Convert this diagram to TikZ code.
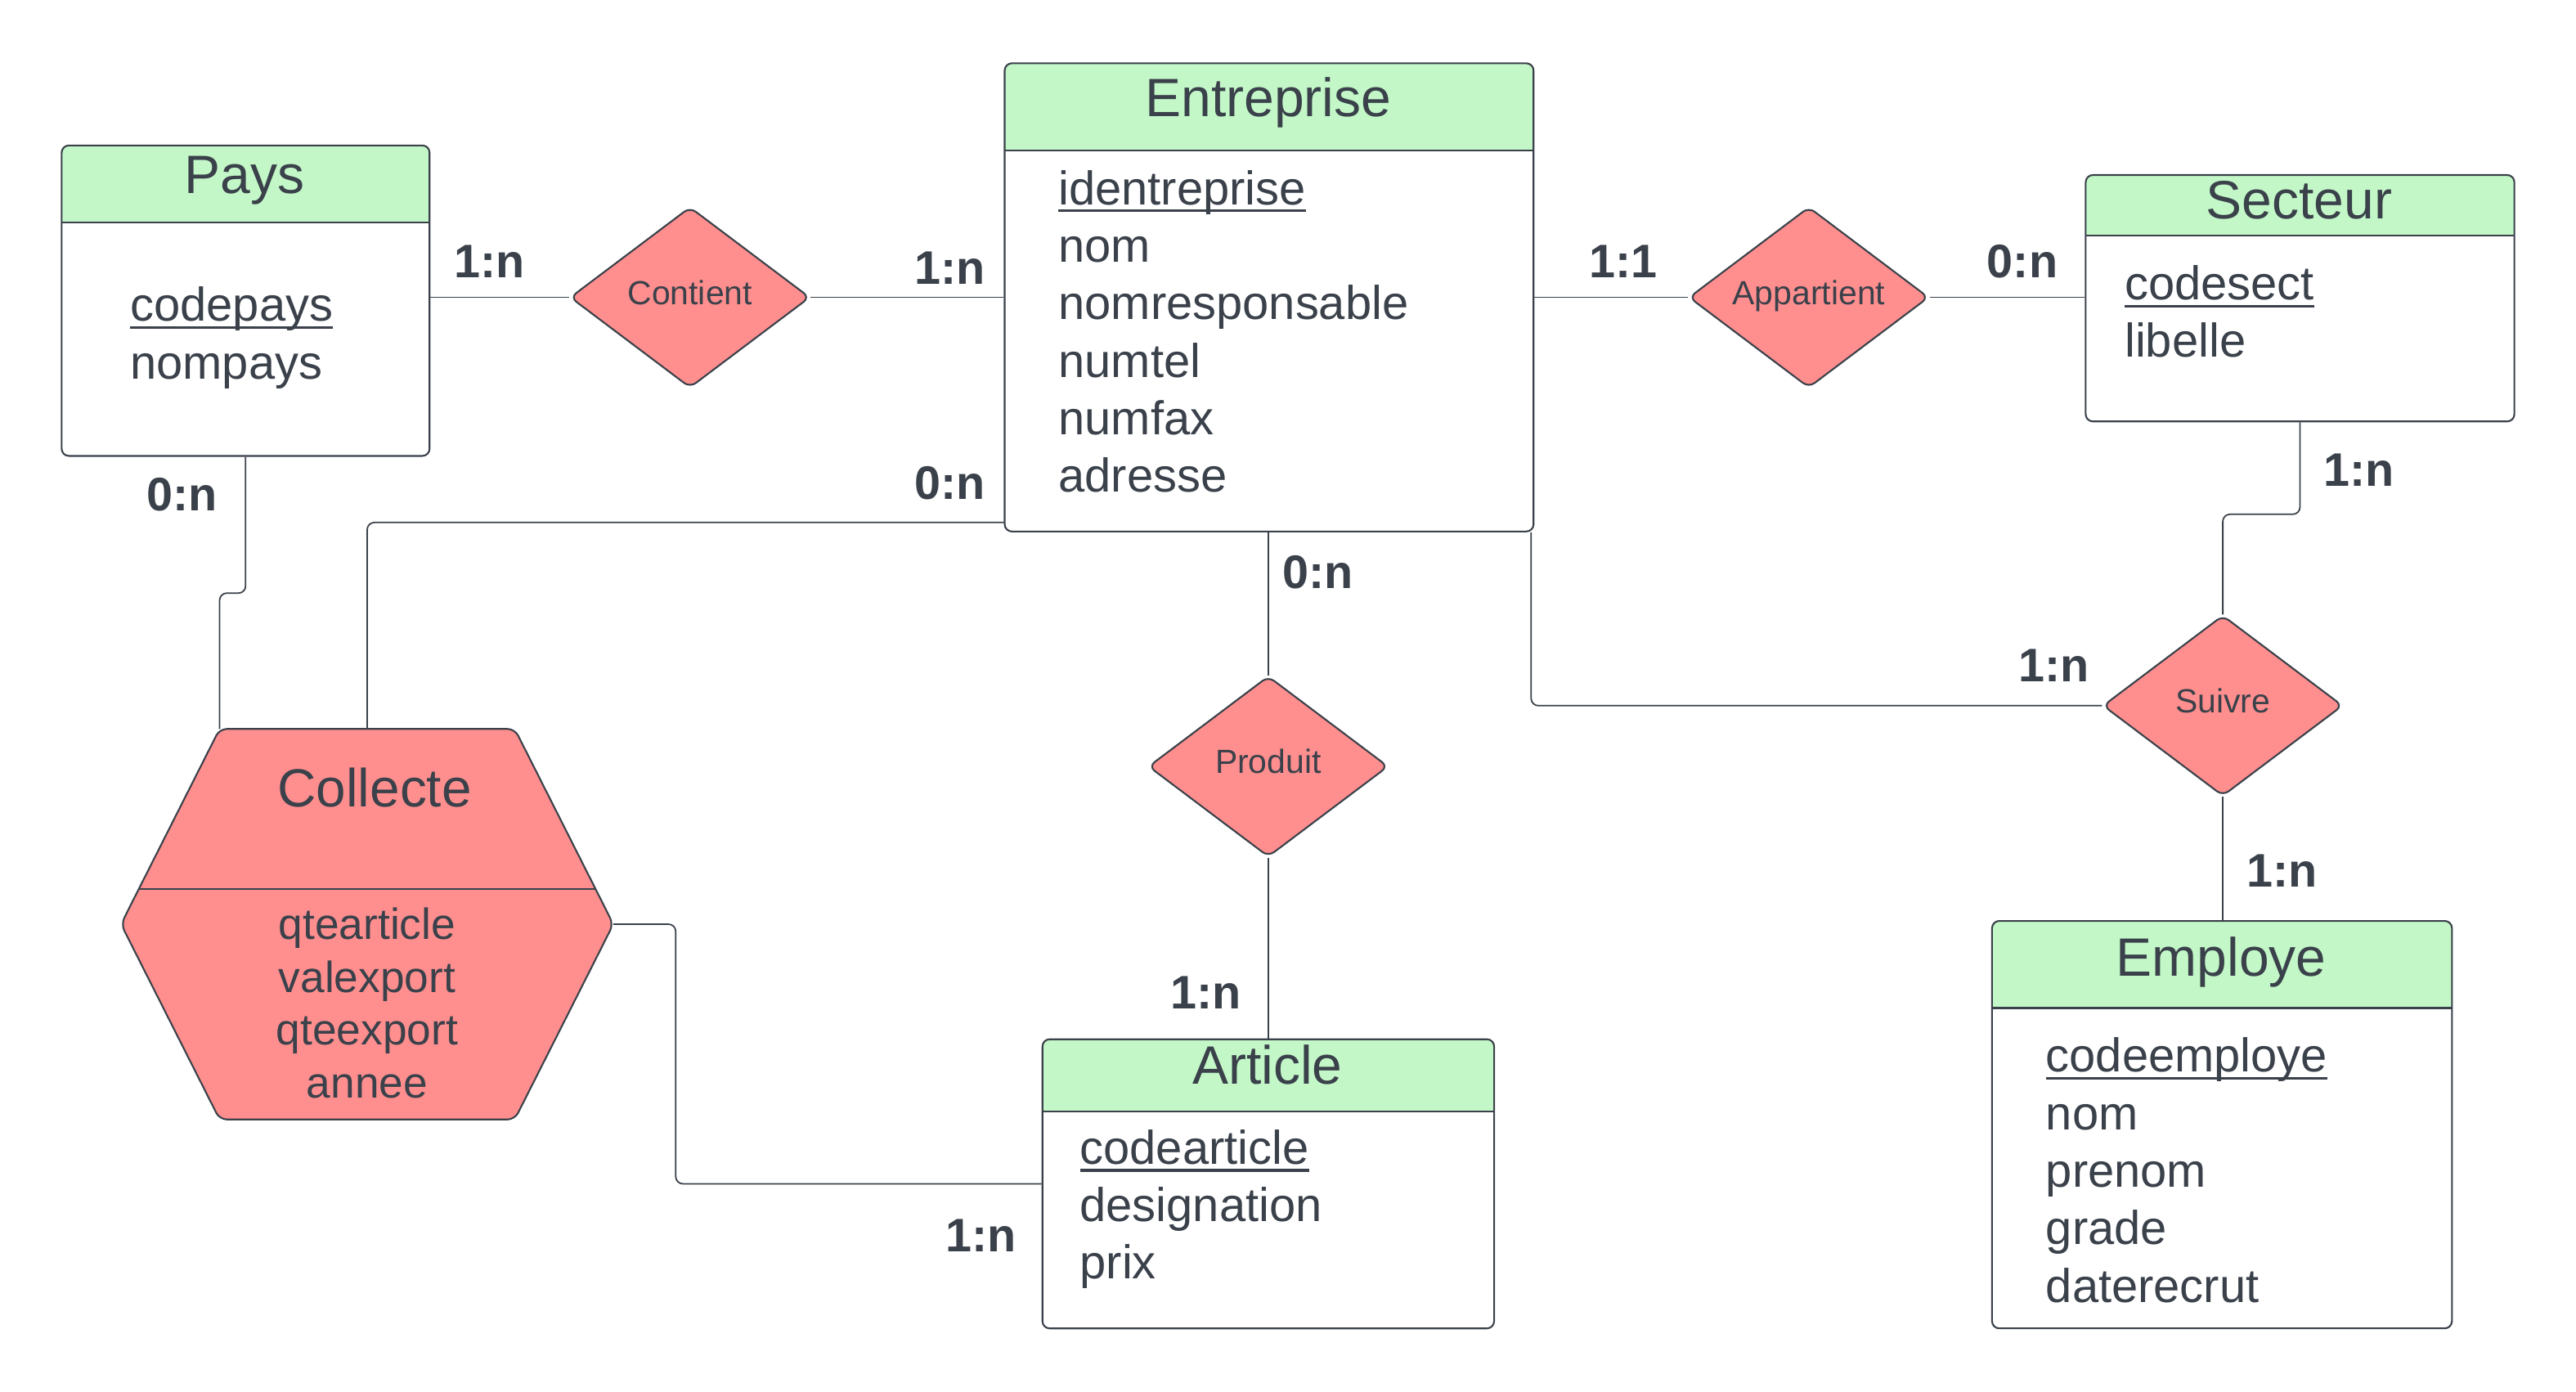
\documentclass[tikz,border=0pt]{standalone}
\usepackage{fontspec}
\setmainfont{Liberation Sans}
\usetikzlibrary{shapes.geometric, calc}
\definecolor{ergreen}{HTML}{C3F7C8}
\definecolor{erred}{HTML}{FF8F8F}
\definecolor{erink}{HTML}{3A414A}
\newcommand{\keyul}[1]{\setbox0\hbox{#1}\rlap{\rule[-2.6pt]{\wd0}{0.9pt}}\box0}

\begin{document}
\begin{tikzpicture}[
  x=0.02cm, y=-0.02cm,
  every node/.style={text=erink},
  entity/.style={rectangle, draw=erink, fill=white, line width=0.6pt, rounded corners=2.5pt, anchor=north west, inner sep=0pt,
    path picture={
      \fill[ergreen, sharp corners] (path picture bounding box.north west) rectangle ([yshift=-#1]path picture bounding box.north east);
      \draw[erink, line width=0.6pt, sharp corners] ([yshift=-#1]path picture bounding box.north west) -- ([yshift=-#1]path picture bounding box.north east);}},
  title/.style={font=\fontsize{18.7}{22}\selectfont, anchor=base, inner sep=0pt},
  attr/.style={font=\fontsize{16.4}{20}\selectfont, anchor=base west, inner sep=0pt},
  assoc/.style={diamond, draw=erink, fill=erred, line width=0.6pt, rounded corners=2.5pt, aspect=1.33,
    minimum width=2.92cm, minimum height=2.2cm, inner sep=0pt, text height=0.3cm, text depth=0.13cm,
    font=\fontsize{11.6}{14}\selectfont},
  card/.style={font=\bfseries\fontsize{16.3}{20}\selectfont, anchor=base, inner sep=0pt},
  link/.style={draw=erink, line width=0.5pt, rounded corners=2.5pt},
]
\useasboundingbox (0,0) rectangle (1568,847);

% Entities
\node[entity=0.94cm, minimum width=4.48cm, minimum height=3.78cm] (pays) at (37,88) {};
\node[title] (pays-t) at (149,117.6) {Pays};
\foreach \txt [count=\i] in {\keyul{codepays}, nompays}
  \node[attr] (pays-a\i) at (79,160.5+\i*35) {\txt};

\node[entity=1.06cm, minimum width=6.44cm, minimum height=5.70cm] (entreprise) at (611,38) {};
\node[title] (entreprise-t) at (772,71) {Entreprise};
\foreach \txt [count=\i] in {\keyul{identreprise}, nom, nomresponsable, numtel, numfax, adresse}
  \node[attr] (entreprise-a\i) at (644,89.5+\i*35) {\txt};

\node[entity=0.74cm, minimum width=5.22cm, minimum height=3.00cm] (secteur) at (1269,106) {};
\node[title] (secteur-t) at (1399.5,133) {Secteur};
\foreach \txt [count=\i] in {\keyul{codesect}, libelle}
  \node[attr] (secteur-a\i) at (1293,147.5+\i*35) {\txt};

\node[entity=1.06cm, minimum width=5.60cm, minimum height=4.96cm] (employe) at (1212,560) {};
\node[title] (employe-t) at (1352,594) {Employe};
\foreach \txt [count=\i] in {\keyul{codeemploye}, nom, prenom, grade, daterecrut}
  \node[attr] (employe-a\i) at (1245,617.5+\i*35) {\txt};

\node[entity=0.88cm, minimum width=5.50cm, minimum height=3.52cm] (article) at (634,632) {};
\node[title] (article-t) at (771.5,660) {Article};
\foreach \txt [count=\i] in {\keyul{codearticle}, designation, prix}
  \node[attr] (article-a\i) at (657,673.5+\i*35) {\txt};

% Associations
\node[assoc] (contient) at (420,181) {Contient};
\node[assoc] (appartient) at (1101,181) {Appartient};
\node[assoc] (produit) at (772,466.5) {Produit};
\node[assoc] (suivre) at (1353,429.5) {Suivre};

% Collecte (hexagon)
\node[minimum width=5.98cm, minimum height=4.74cm, inner sep=0pt] (collecte) at (223.5,562.5) {};
\coordinate (ctl) at ([xshift=1.2cm]collecte.north west);
\coordinate (ctr) at ([xshift=-1.2cm]collecte.north east);
\path[draw=erink, fill=erred, line width=0.6pt, rounded corners=2.5pt]
  (collecte.west) -- (ctl) -- (ctr) -- (collecte.east)
  -- ([xshift=-1.2cm]collecte.south east) -- ([xshift=1.2cm]collecte.south west) -- cycle;
\draw[erink, line width=0.6pt] ($(collecte.west)!0.18!(ctl)$) -- ($(collecte.east)!0.18!(ctr)$);
\node[title, font=\fontsize{18.6}{22}\selectfont] (collecte-t) at (228,491) {Collecte};
\foreach \txt/\yy [count=\i] in {qtearticle/571.5, valexport/604, qteexport/636, annee/668.5}
  \node[anchor=base, inner sep=0pt, font=\fontsize{15.1}{18}\selectfont] (collecte-a\i) at (223.5,\yy) {\txt};

% Connectors
\draw[link] (pays.east |- contient.west) -- (contient.west);
\draw[link] (contient.east) -- (contient.east -| entreprise.west);
\draw[link] (entreprise.east |- appartient.west) -- (appartient.west);
\draw[link] (appartient.east) -- (appartient.east -| secteur.west);
\draw[link] (secteur.south) -- (secteur.south |- 0,313) -- (suivre.north |- 0,313) -- (suivre.north);
\draw[link] ([xshift=-0.04cm]entreprise.south east) |- (suivre.west);
\draw[link] (suivre.south) -- (suivre.south |- employe.north);
\draw[link] (entreprise.south -| produit.north) -- (produit.north);
\draw[link] (produit.south) -- (produit.south |- article.north);
\draw[link] (pays.south) -- (pays.south |- 0,361) -- (ctl |- 0,361) -- (ctl);
\draw[link] ([yshift=0.12cm]entreprise.south west) -| (collecte.north);
\draw[link] (collecte.east) -- ++(0.76cm,0) |- (article.west);

% Cardinalities
\node[card] (c-pays-contient) at (298,169) {1:n};
\node[card] (c-entreprise-contient) at (578,173) {1:n};
\node[card] (c-entreprise-appartient) at (988,169) {1:1};
\node[card] (c-secteur-appartient) at (1231,169) {0:n};
\node[card] (c-secteur-suivre) at (1436,296) {1:n};
\node[card] (c-entreprise-suivre) at (1250,415) {1:n};
\node[card] (c-employe-suivre) at (1389,540) {1:n};
\node[card] (c-entreprise-produit) at (802,358) {0:n};
\node[card] (c-article-produit) at (734,614) {1:n};
\node[card] (c-pays-collecte) at (111,311) {0:n};
\node[card] (c-entreprise-collecte) at (578,304) {0:n};
\node[card] (c-article-collecte) at (597,762) {1:n};

\end{tikzpicture}
\end{document}
